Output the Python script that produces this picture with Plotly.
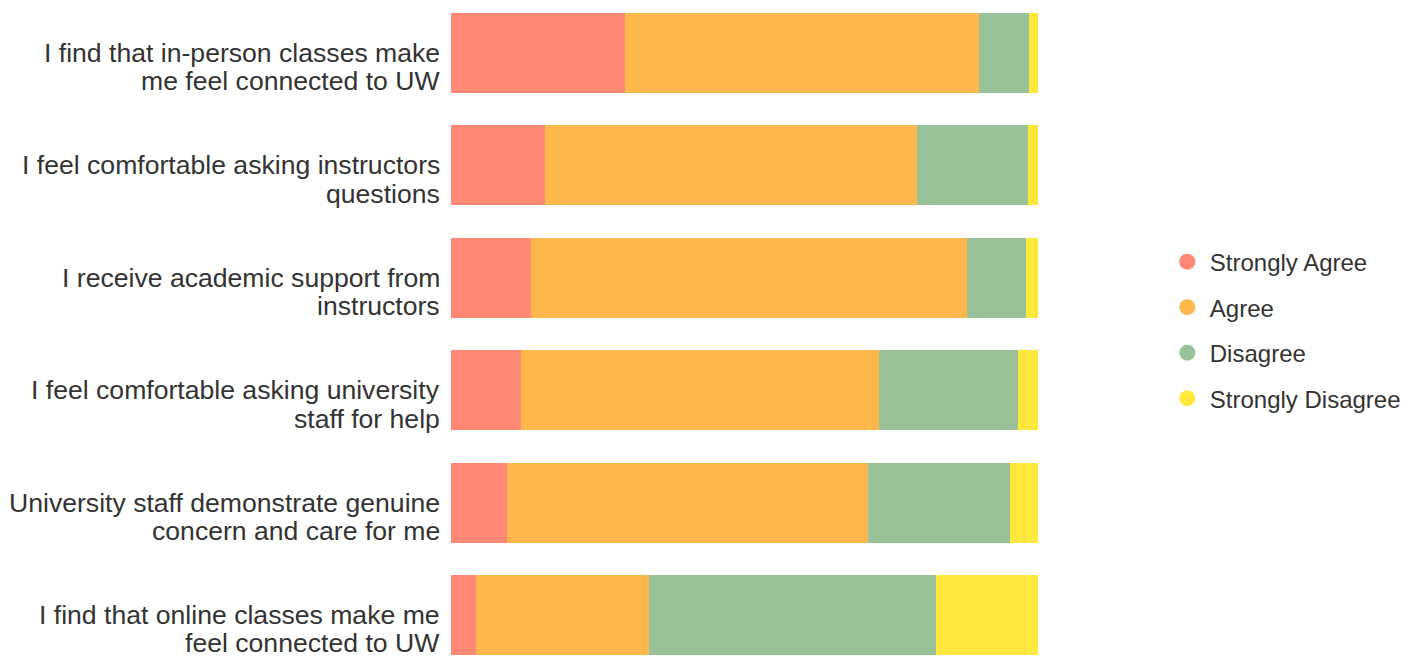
import plotly.graph_objects as go

questions = [
    ("I find that in-person classes make", "me feel connected to UW"),
    ("I feel comfortable asking instructors", "questions"),
    ("I receive academic support from", "instructors"),
    ("I feel comfortable asking university", "staff for help"),
    ("University staff demonstrate genuine", "concern and care for me"),
    ("I find that online classes make me", "feel connected to UW"),
]
series_names = ["Strongly Agree", "Agree", "Disagree", "Strongly Disagree"]
strongly_agree = [29.6, 16.0, 13.6, 12.0, 9.5, 4.3]
agree = [60.3, 63.4, 74.3, 60.9, 61.6, 29.4]
disagree = [8.5, 18.9, 10.1, 23.7, 24.2, 49.0]
strongly_disagree = [1.6, 1.7, 2.0, 3.4, 4.7, 17.3]

colors = ["#FF8875", "#FDB74A", "#99C299", "#FFE83B"]
values = [strongly_agree, agree, disagree, strongly_disagree]
cats = [" ".join(q) for q in questions]

FONT = "Liberation Sans, Arial, sans-serif"
TEXT = "#333333"

fig = go.Figure()
for name, vals, col in zip(series_names, values, colors):
    fig.add_trace(go.Bar(
        y=cats, x=vals, orientation="h", name=name,
        marker=dict(color=col, line=dict(width=0)),
        showlegend=False, hoverinfo="skip",
    ))
for i, (name, col) in enumerate(zip(series_names, colors)):
    fig.add_trace(go.Scatter(
        x=[None], y=[None], mode="markers", name=name,
        marker=dict(color=col, size=16, symbol="circle"),
        legendgroup=f"g{i}", showlegend=True,
    ))

annotations = []
for c, (l1, l2) in zip(cats, questions):
    for line, shift in ((l1, 0), (l2, -28.4)):
        annotations.append(dict(
            xref="paper", x=0, xanchor="right", xshift=-9,
            yref="y", y=c, yanchor="middle", yshift=shift,
            text=line, showarrow=False,
            font=dict(family=FONT, size=26.6, color=TEXT),
        ))

fig.update_layout(
    width=1411, height=648, autosize=False,
    barmode="stack", bargap=0.288,
    margin=dict(l=443, r=381, t=0, b=0, pad=0),
    plot_bgcolor="white", paper_bgcolor="white",
    font=dict(family=FONT, size=24, color=TEXT),
    xaxis=dict(range=[0, 100], visible=False, showgrid=False, zeroline=False, fixedrange=True),
    yaxis=dict(type="category", categoryorder="array", categoryarray=cats,
               range=[5.365, -0.4004], showticklabels=False, showgrid=False,
               zeroline=False, showline=False, ticks=""),
    legend=dict(x=1.216, xanchor="left", y=0.503, yanchor="middle",
                font=dict(family=FONT, size=24, color=TEXT), itemwidth=35,
                tracegroupgap=11.3, itemclick=False, itemdoubleclick=False),
    annotations=annotations,
)

fig.write_html("out.html")
